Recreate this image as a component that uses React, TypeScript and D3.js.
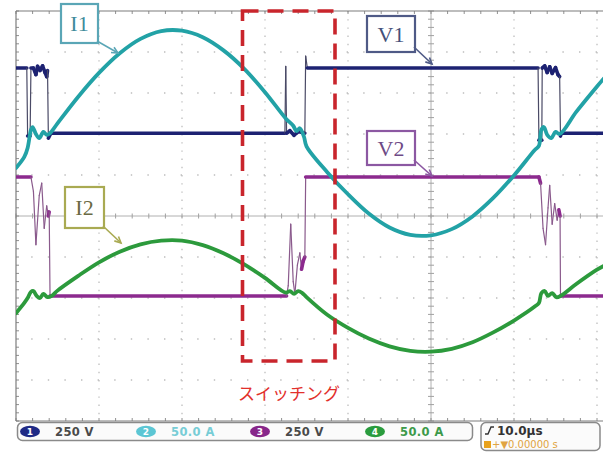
import React from "react";
import * as d3 from "d3";

// time in µs (10 µs/div, trigger at 0), values in screen divisions (±5 div)
const tI1 = [-50, -49, -48.6, -48.2, -48.0, -47.6, -47.2, -46.7, -46.3, -45.9, -45, -42.5, -40, -37.5, -35, -32.5, -30, -27.5, -25, -22.5, -20, -17.5, -16.6, -16.2, -15.8, -15.3, -15, -12.5, -10, -7.5, -5, -2.5, 0, 2.5, 5, 7.5, 10, 12.5, 13.0, 13.3, 13.6, 14.0, 14.5, 15.0, 15.5, 17.5, 20, 20.8];
const vI1 = [1.17, 1.44, 1.66, 2.10, 2.17, 2.00, 1.90, 2.05, 1.98, 2.02, 2.26, 2.91, 3.49, 3.97, 4.32, 4.51, 4.52, 4.36, 4.04, 3.59, 3.02, 2.38, 2.20, 2.07, 2.14, 1.93, 1.70, 1.07, 0.53, 0.06, -0.28, -0.46, -0.47, -0.32, -0.01, 0.44, 0.99, 1.61, 1.71, 2.10, 2.17, 1.98, 1.90, 2.05, 2.00, 2.54, 3.16, 3.35];

const tI2 = [-50, -49, -48.6, -48.2, -47.9, -47.5, -47.1, -46.7, -46.2, -45.7, -45, -42.5, -40, -37.5, -35, -32.5, -30, -27.5, -25, -22.5, -20, -17.5, -17, -16.5, -16, -15.5, -15, -12.5, -10, -7.5, -5, -2.5, 0, 2.5, 5, 7.5, 10, 12.5, 13.0, 13.3, 13.7, 14.1, 14.6, 15.1, 15.6, 17.5, 20, 20.8];
const vI2 = [-2.37, -2.12, -2.00, -1.85, -1.83, -1.95, -2.00, -1.90, -1.98, -1.95, -1.82, -1.46, -1.13, -0.87, -0.69, -0.60, -0.60, -0.71, -0.91, -1.18, -1.51, -1.87, -1.83, -1.90, -1.83, -1.88, -1.98, -2.41, -2.73, -2.99, -3.18, -3.29, -3.31, -3.24, -3.08, -2.84, -2.55, -2.21, -2.12, -1.88, -1.83, -1.95, -1.88, -1.98, -1.95, -1.66, -1.31, -1.22];

const tV1 = [-50, -48.7, -48.6, -48.3, -48.2, -47.9, -47.6, -47.4, -47.1, -46.8, -46.5, -46.3, -46.2, -46.1, -45.8, -17.6, -17.5, -17.4, -17.0, -16.5, -16.0, -15.2, -15.1, -14.9, 12.9, 13.0, 13.35, 13.4, 13.7, 14.0, 14.3, 14.6, 15.0, 15.3, 15.5, 15.6, 15.7, 20.8];
const vV1 = [3.61, 3.61, 1.95, 1.95, 3.61, 3.61, 3.45, 3.65, 3.55, 3.66, 3.50, 3.40, 3.55, 1.90, 2.02, 2.02, 3.65, 2.02, 2.08, 1.97, 2.06, 2.02, 3.90, 3.61, 3.61, 1.85, 1.85, 3.61, 3.66, 3.50, 3.64, 3.48, 3.62, 3.45, 3.40, 1.95, 2.02, 2.02];

const tV2 = [-50, -48.2, -47.9, -47.6, -47.2, -46.9, -46.6, -46.3, -46.1, -46.0, -45.9, -17.4, -17.2, -16.9, -16.6, -16.4, -16.1, -15.8, -15.6, -15.4, -15.2, -15.1, 13.0, 13.2, 13.5, 13.8, 14.1, 14.3, 14.6, 14.9, 15.2, 15.4, 15.55, 15.6, 20.8];
const vV2 = [0.95, 0.95, 0.6, -0.7, 0.5, 0.8, -0.3, 0.25, 0.0, 0.1, -1.95, -1.95, -1.7, -0.2, -1.6, -1.9, -1.2, -0.9, -1.3, -1.1, -1.0, 0.95, 0.95, 0.8, -0.3, -0.7, 0.2, 0.75, -0.2, 0.3, -0.1, 0.15, 0.0, -1.95, -1.95];

const statusScales = ["250 V", "50.0 A", "250 V", "50.0 A"];
const channelIds = ["1", "2", "3", "4"];
const timebase = "10.0µs";
const triggerPos = "+▼0.00000 s";
const switchLabel = "スイッチング";

const W = 603, H = 452;
const L = 16, T = 11, B = 421, R = 603;

const x = d3.scaleLinear().domain([-50, 20]).range([16, 597]);
const y = d3.scaleLinear().domain([-5, 5]).range([B, T]);

const C_V1 = "#1d2272";
const C_I1 = "#22a2a6";
const C_V2 = "#8c2a8e";
const C_I2 = "#2c9a3c";

function pts(t: number[], v: number[]) {
  return t.map((tt, i) => [x(tt), y(v[i])] as [number, number]);
}

function Segments({ t, v, color, thinColor }: { t: number[]; v: number[]; color: string; thinColor: string }) {
  const p = pts(t, v);
  const segs = [] as any[];
  for (let i = 0; i < p.length - 1; i++) {
    const [x0, y0] = p[i];
    const [x1, y1] = p[i + 1];
    const dx = Math.abs(x1 - x0), dy = Math.abs(y1 - y0);
    const thin = dy > 2.5 * dx + 6;
    segs.push(
      <line key={i} x1={x0} y1={y0} x2={x1} y2={y1}
        stroke={thin ? thinColor : color}
        strokeWidth={thin ? 1.2 : 3.6}
        strokeLinecap="round" />
    );
  }
  return <g>{segs}</g>;
}

function Curve({ t, v, color }: { t: number[]; v: number[]; color: string }) {
  const line = d3.line().curve(d3.curveCatmullRom.alpha(0.5));
  const d = line(pts(t, v)) || "";
  return <path d={d} fill="none" stroke={color} strokeWidth={3.8} strokeLinejoin="round" strokeLinecap="round" />;
}

function Grid() {
  const els: any[] = [];
  const majorT = d3.range(-40, 21, 10);
  const majorV = d3.range(-4, 5, 1);
  majorV.forEach((v) => {
    if (v === 0) return;
    els.push(<line key={"h" + v} x1={L} x2={R} y1={y(v)} y2={y(v)} stroke="#bdbdbd" strokeWidth={1.3} strokeDasharray="1.4 15.2" strokeDashoffset={-15.2} />);
  });
  majorT.forEach((t) => {
    if (t === 0) return;
    els.push(<line key={"v" + t} x1={x(t)} x2={x(t)} y1={T} y2={B} stroke="#bdbdbd" strokeWidth={1.3} strokeDasharray="1.4 6.8" />);
  });
  els.push(<line key="ch" x1={L} x2={R} y1={y(0)} y2={y(0)} stroke="#b0b0b0" strokeWidth={1} />);
  els.push(<line key="cv" x1={x(0)} x2={x(0)} y1={T} y2={B} stroke="#b0b0b0" strokeWidth={1} />);
  d3.range(-50, 21, 2).forEach((t) => {
    els.push(<line key={"ct" + t} x1={x(t)} x2={x(t)} y1={y(0) - 2.5} y2={y(0) + 2.5} stroke="#a0a0a0" strokeWidth={1} />);
    els.push(<line key={"tt" + t} x1={x(t)} x2={x(t)} y1={T} y2={T + 3} stroke="#909090" strokeWidth={1} />);
    els.push(<line key={"bt" + t} x1={x(t)} x2={x(t)} y1={B} y2={B - 3} stroke="#909090" strokeWidth={1} />);
  });
  d3.range(-5, 5.01, 0.2).forEach((v, i) => {
    els.push(<line key={"cy" + i} x1={x(0) - 3} x2={x(0) + 3} y1={y(v)} y2={y(v)} stroke="#a0a0a0" strokeWidth={1} />);
    els.push(<line key={"ly" + i} x1={L} x2={L + 3} y1={y(v)} y2={y(v)} stroke="#909090" strokeWidth={1} />);
  });
  els.push(<line key="ft" x1={L} x2={R} y1={T} y2={T} stroke="#7c7c7c" strokeWidth={1.2} />);
  els.push(<line key="fl" x1={L} x2={L} y1={T} y2={B} stroke="#7c7c7c" strokeWidth={1.2} />);
  els.push(<line key="fb" x1={L} x2={R} y1={B} y2={B} stroke="#7c7c7c" strokeWidth={1.2} />);
  return <g>{els}</g>;
}

function Label({ bx, by, bw, bh, text, stroke, color, ax1, ay1, ax2, ay2, fs }: any) {
  const ang = Math.atan2(ay2 - ay1, ax2 - ax1);
  const h1 = [ax2 - 7 * Math.cos(ang - 0.45), ay2 - 7 * Math.sin(ang - 0.45)];
  const h2 = [ax2 - 7 * Math.cos(ang + 0.45), ay2 - 7 * Math.sin(ang + 0.45)];
  return (
    <g>
      <rect x={bx} y={by} width={bw} height={bh} fill="white" stroke={stroke} strokeWidth={2.2} />
      <text x={bx + bw / 2} y={by + bh / 2 + fs * 0.36} textAnchor="middle" fontFamily="'Liberation Serif', 'DejaVu Serif', serif" fontSize={fs} fill={color}>{text}</text>
      <line x1={ax1} y1={ay1} x2={ax2} y2={ay2} stroke={stroke} strokeWidth={1.6} />
      <polyline points={`${h1[0]},${h1[1]} ${ax2},${ay2} ${h2[0]},${h2[1]}`} fill="none" stroke={stroke} strokeWidth={1.6} />
    </g>
  );
}

export default function App() {
  const badgeColors = ["#1f2a86", "#5cc6d4", "#87268a", "#2a9c3e"];
  const textColors = ["#4a4a4a", "#78cdd6", "#4a4a4a", "#3c9a4a"];
  const badgeX = [30, 146, 260, 375];
  return (
    <svg width={W} height={H} style={{ position: "absolute", left: 0, top: 0, background: "white" }} xmlns="http://www.w3.org/2000/svg">
      <defs>
        <clipPath id="plot"><rect x={L} y={T - 2} width={R - L} height={B - T + 2} /></clipPath>
      </defs>
      <rect x={0} y={0} width={W} height={H} fill="white" />
      <Grid />
      <g clipPath="url(#plot)">
        <Segments t={tV1} v={vV1} color={C_V1} thinColor="#4a4a66" />
        <Segments t={tV2} v={vV2} color={C_V2} thinColor="#8a5a8c" />
        <Curve t={tI1} v={vI1} color={C_I1} />
        <Curve t={tI2} v={vI2} color={C_I2} />
      </g>

      <Label bx={61} by={4} bw={37} bh={39} text="I1" stroke="#5aa6b6" color="#3f8c9c" fs={22} ax1={97} ay1={41} ax2={118} ay2={53} />
      <Label bx={367} by={16} bw={48} bh={36} text="V1" stroke="#4f5a86" color="#44507a" fs={22} ax1={414} ay1={47} ax2={432} ay2={64} />
      <Label bx={367} by={131} bw={48} bh={34} text="V2" stroke="#8c58a2" color="#6e4a86" fs={22} ax1={414} ay1={160} ax2={432} ay2={176} />
      <Label bx={65} by={187} bw={39} bh={41} text="I2" stroke="#a9aa52" color="#6a6a44" fs={22} ax1={103} ay1={226} ax2={121} ay2={243} />

      <rect x={242.5} y={11} width={92.5} height={350} fill="none" stroke="#c9252c" strokeWidth={3.6} strokeDasharray="16 9" />
      <text x={289} y={400} textAnchor="middle" fontFamily="'Noto Sans CJK JP', sans-serif" fontSize={17} fill="#e2302c">{switchLabel}</text>

      <rect x={17.5} y={422.5} width={455} height={18} rx={5} fill="#fbfbfb" stroke="#8a8a8a" strokeWidth={1.5} />
      {channelIds.map((id, i) => (
        <g key={id}>
          <ellipse cx={badgeX[i]} cy={431.5} rx={10} ry={5.8} fill={badgeColors[i]} />
          <text x={badgeX[i]} y={435} textAnchor="middle" fontFamily="'DejaVu Sans', sans-serif" fontSize={9} fontWeight="bold" fill="white">{id}</text>
          <text x={badgeX[i] + 25} y={436} fontFamily="'DejaVu Sans', sans-serif" fontSize={11.5} fontWeight="bold" fill={textColors[i]} letterSpacing={0.4}>{statusScales[i]}</text>
        </g>
      ))}
      <rect x={481} y={422.5} width={119} height={28} rx={5} fill="#fbfbfb" stroke="#8a8a8a" strokeWidth={1.5} />
      <path d="M485 434 L488 434 L491 427 L494 427" fill="none" stroke="#333" strokeWidth={1.4} />
      <text x={497} y={435} fontFamily="'DejaVu Sans', sans-serif" fontSize={12} fontWeight="bold" fill="#333">{timebase}</text>
      <rect x={484} y={441} width={7} height={7} fill="#e8a21e" />
      <text x={492} y={448} fontFamily="'DejaVu Sans', sans-serif" fontSize={10} fill="#e0a442">{triggerPos}</text>
    </svg>
  );
}
